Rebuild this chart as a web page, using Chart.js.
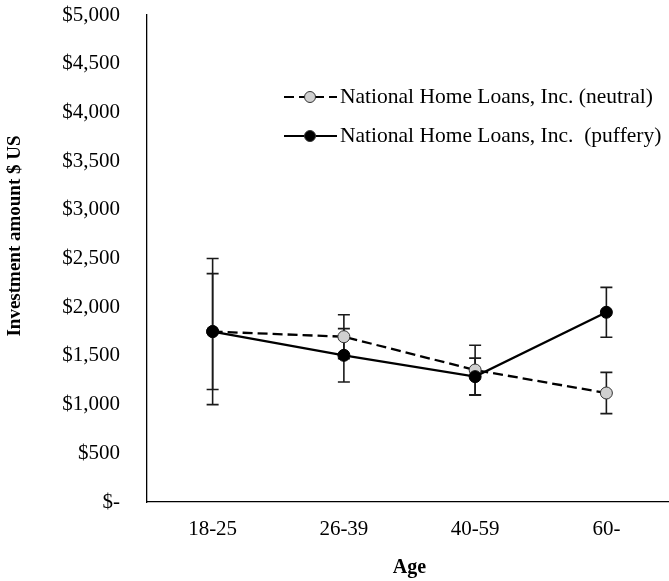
<!DOCTYPE html>
<html>
<head>
<meta charset="utf-8">
<script src="https://cdn.jsdelivr.net/npm/chart.js@4"></script>
<style>
    html, body { margin: 0; padding: 0; background: #fff; overflow: hidden; }
    #wrap { width: 679px; height: 581px; }
</style>
</head>
<body>
<div id="wrap"><canvas id="age-graph-canvas"></canvas></div>
<script>
const ageGroups = ['18-25', '26-39', '40-59', '60-'];

const neutralMeans = [1750, 1697, 1355, 1119];
const neutralErrors = [595, 226, 254, 212];

const pufferyMeans = [1750, 1506, 1287, 1948];
const pufferyErrors = [750, 274, 190, 256];

const neutralLabel = 'National Home Loans, Inc. (neutral)';
const pufferyLabel = 'National Home Loans, Inc.  (puffery)';
const yTitle = 'Investment amount $ US';

const FONT = "'Liberation Serif', 'Times New Roman', serif";

function money(v) {
    if (v == 0) return '$-';
    return '$' + v.toLocaleString('en-US');
}

// error bars for each dataset, drawn under the lines and markers
const errorBars = {
    id: 'errorBars',
    beforeDatasetsDraw(chart) {
        const ctx = chart.ctx;
        const x = chart.scales.x;
        const y = chart.scales.y;
        ctx.save();
        ctx.strokeStyle = '#1a1a1a';
        ctx.lineWidth = 1.6;
        chart.data.datasets.forEach(ds => {
            ds.data.forEach((v, i) => {
                let px = x.getPixelForValue(i);
                let top = y.getPixelForValue(v + ds.errors[i]);
                let bottom = y.getPixelForValue(v - ds.errors[i]);
                ctx.beginPath();
                ctx.moveTo(px, top);
                ctx.lineTo(px, bottom);
                ctx.moveTo(px - 6, top);
                ctx.lineTo(px + 6, top);
                ctx.moveTo(px - 6, bottom);
                ctx.lineTo(px + 6, bottom);
                ctx.stroke();
            });
        });
        ctx.restore();
    }
};

// legend sitting inside the plot area, plus the rotated y title
const innerLegend = {
    id: 'innerLegend',
    afterDraw(chart) {
        const ctx = chart.ctx;
        ctx.save();
        ctx.font = '21.5px ' + FONT;
        ctx.fillStyle = '#000';
        ctx.textBaseline = 'middle';
        chart.data.datasets.forEach((ds, k) => {
            let yy = 97 + k * 39;
            ctx.strokeStyle = '#000';
            ctx.lineWidth = 2.2;
            ctx.setLineDash(ds.borderDash || []);
            ctx.beginPath();
            ctx.moveTo(284, yy);
            ctx.lineTo(337, yy);
            ctx.stroke();
            ctx.setLineDash([]);
            ctx.beginPath();
            ctx.arc(310, yy, 5.5, 0, Math.PI * 2);
            ctx.fillStyle = ds.pointBackgroundColor;
            ctx.fill();
            ctx.lineWidth = 1;
            ctx.strokeStyle = '#333';
            ctx.stroke();
            ctx.fillStyle = '#000';
            ctx.fillText(ds.label, 340, yy);
        });

        ctx.translate(15, 236);
        ctx.rotate(-Math.PI / 2);
        ctx.textAlign = 'center';
        ctx.font = 'bold 19px ' + FONT;
        ctx.fillText(yTitle, 0, 0);
        ctx.restore();
    }
};

const ctx = document.getElementById('age-graph-canvas');

new Chart(ctx, {
    type: 'line',
    data: {
        labels: ageGroups,
        datasets: [
            {
                label: neutralLabel,
                data: neutralMeans,
                errors: neutralErrors,
                order: 1,
                borderColor: '#000',
                borderWidth: 2.3,
                borderDash: [10, 5],
                pointRadius: 6,
                pointBackgroundColor: '#d0d0d0',
                pointBorderColor: '#333',
                pointBorderWidth: 1
            },
            {
                label: pufferyLabel,
                data: pufferyMeans,
                errors: pufferyErrors,
                order: 0,
                borderColor: '#000',
                borderWidth: 2.3,
                pointRadius: 6,
                pointBackgroundColor: '#000',
                pointBorderColor: '#000',
                pointBorderWidth: 1
            }
        ]
    },
    options: {
        responsive: true,
        maintainAspectRatio: false,
        animation: false,
        layout: { padding: 0 },
        plugins: {
            legend: { display: false },
            tooltip: { enabled: false }
        },
        scales: {
            x: {
                offset: true,
                grid: { display: false, drawTicks: false },
                border: { color: '#000', width: 1.3 },
                ticks: { color: '#000', font: { family: FONT, size: 21 }, padding: 15, maxRotation: 0 },
                title: {
                    display: true,
                    text: 'Age',
                    color: '#000',
                    font: { family: FONT, size: 20, weight: 'bold' },
                    padding: { top: 0, bottom: 1 }
                },
                afterFit(scale) { scale.height = 79; }
            },
            y: {
                min: 0,
                max: 5000,
                grid: { display: false, drawTicks: false },
                border: { color: '#000', width: 1.3 },
                ticks: {
                    stepSize: 500,
                    color: '#000',
                    padding: 27,
                    font: { family: FONT, size: 21 },
                    callback: v => money(v)
                },
                afterFit(scale) {
                    scale.width = 147;
                    scale.paddingTop = 15;
                    scale.paddingBottom = 0;
                }
            }
        }
    },
    plugins: [errorBars, innerLegend]
});
</script>
</body>
</html>
